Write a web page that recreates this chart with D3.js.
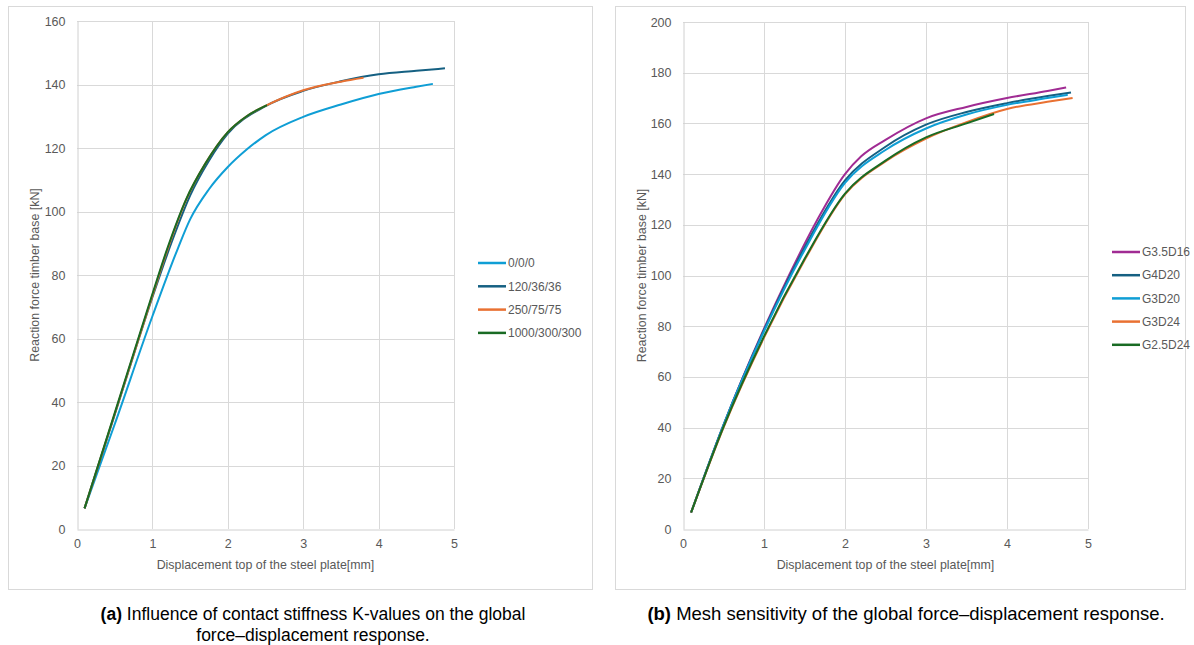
<!DOCTYPE html>
<html>
<head>
<meta charset="utf-8">
<script src="https://cdn.jsdelivr.net/npm/d3@7"></script>
<style>
  body { margin: 0; background: #fff; }
  svg { display: block; }
</style>
</head>
<body>
<svg id="chart" width="1194" height="645"></svg>
<script>
// Panel (a): contact stiffness K-values
const kNames = ['0/0/0', '120/36/36', '250/75/75', '1000/300/300'];
const kColors = ['#0F9ED5', '#156082', '#E97132', '#196B24'];
const k000 = [[0.1, 6.5], [0.5, 33], [1, 67], [1.34, 88.5], [1.5, 97.5], [1.75, 107], [2, 114], [2.25, 119.5], [2.5, 124], [3, 129.8], [3.5, 133.7], [4, 137], [4.5, 139.3], [4.72, 140.2]];
const k120 = [[0.1, 6.5], [0.5, 36], [1, 73], [1.25, 90], [1.5, 105], [1.75, 116], [2, 124.5], [2.5, 133.2], [3, 138], [3.5, 141], [4, 143.2], [4.5, 144.3], [4.88, 145.1]];
const k250 = [[0.1, 6.5], [0.5, 36.2], [1, 73.5], [1.2, 88], [1.45, 103.8], [1.7, 115], [2, 125], [2.25, 130], [2.52, 133.5], [3, 138.2], [3.5, 140.9], [3.8, 142.1]];
const k1000 = [[0.1, 6.5], [0.5, 36.5], [1, 74], [1.2, 88.5], [1.45, 104], [1.7, 115], [2, 125], [2.25, 130], [2.52, 133.5]];
const kTicksX = [0, 1, 2, 3, 4, 5];
const kTicksY = [0, 20, 40, 60, 80, 100, 120, 140, 160];

// Panel (b): mesh sensitivity
const meshNames = ['G3.5D16', 'G4D20', 'G3D20', 'G3D24', 'G2.5D24'];
const meshColors = ['#A02B93', '#156082', '#0F9ED5', '#E97132', '#196B24'];
const g35d16 = [[0.1, 6.5], [0.5, 41], [1, 79], [1.3, 99.5], [1.65, 121.5], [2, 140], [2.2, 147], [2.5, 153.5], [3, 162], [3.5, 166.5], [4, 170], [4.5, 172.8], [4.73, 174.2]];
const g4d20 = [[0.1, 6.5], [0.5, 41], [1, 78.5], [1.5, 111], [2, 137.5], [2.5, 150.8], [3, 159.5], [3.5, 164.5], [4, 168], [4.5, 170.8], [4.79, 172.2]];
const g3d20 = [[0.1, 6.5], [0.5, 41], [1, 78], [1.5, 110], [2, 136.5], [2.5, 149.5], [3, 158], [3.5, 163.5], [4, 167.3], [4.5, 170], [4.75, 171.3]];
const g3d24 = [[0.1, 6.5], [0.5, 40], [1, 75.5], [1.5, 106], [2, 132], [2.5, 145], [3, 154], [3.5, 160.5], [4, 165.7], [4.5, 168.5], [4.81, 170]];
const g25d24 = [[0.1, 6.5], [0.5, 40.3], [1, 76], [1.5, 106.5], [2, 132.3], [2.5, 145.3], [3, 154.5], [3.5, 160], [3.84, 163.7]];
const meshTicksX = [0, 1, 2, 3, 4, 5];
const meshTicksY = [0, 20, 40, 60, 80, 100, 120, 140, 160, 180, 200];

const xTitle = 'Displacement top of the steel plate[mm]';
const yTitle = 'Reaction force timber base [kN]';

const svg = d3.select('#chart');
const font = '"Liberation Sans", Arial, sans-serif';
const gray = '#595959';

function drawPanel(p) {
  // outer frame
  svg.append('rect')
    .attr('x', p.frame[0] + 0.5).attr('y', p.frame[1] + 0.5)
    .attr('width', p.frame[2] - p.frame[0]).attr('height', p.frame[3] - p.frame[1])
    .attr('fill', '#fff').attr('stroke', '#d9d9d9');

  const x = d3.scaleLinear().domain([0, 5]).range([p.plot.left, p.plot.right]);
  const y = d3.scaleLinear().domain([0, p.yMax]).range([p.plot.bottom, p.plot.top]);

  const g = svg.append('g');

  // gridlines
  g.append('g').selectAll('line').data(p.ticksY.slice(1)).join('line')
    .attr('x1', p.plot.left).attr('x2', p.plot.right)
    .attr('y1', d => Math.round(y(d)) + 0.5).attr('y2', d => Math.round(y(d)) + 0.5)
    .attr('stroke', '#d9d9d9');
  g.append('g').selectAll('line').data(p.ticksX.slice(1)).join('line')
    .attr('y1', p.plot.top).attr('y2', p.plot.bottom)
    .attr('x1', d => Math.round(x(d)) + 0.5).attr('x2', d => Math.round(x(d)) + 0.5)
    .attr('stroke', '#d9d9d9');

  // axes through d3, then restyled like the spreadsheet output
  const xAxis = g.append('g')
    .attr('transform', `translate(0, ${Math.round(y(0)) + 0.5})`)
    .call(d3.axisBottom(x).tickValues(p.ticksX).tickFormat(d3.format('d')).tickSize(0).tickPadding(10));
  const yAxis = g.append('g')
    .attr('transform', `translate(${Math.round(x(0)) + 0.5}, 0)`)
    .call(d3.axisLeft(y).tickValues(p.ticksY).tickFormat(d3.format('d')).tickSize(0).tickPadding(12));
  [xAxis, yAxis].forEach(a => {
    a.select('.domain').attr('stroke', '#d0d0d0');
    a.selectAll('text').attr('fill', gray).style('font-family', font).style('font-size', '12.5px');
  });

  // axis titles
  g.append('text')
    .attr('x', (p.plot.left + p.plot.right) / 2).attr('y', p.plot.bottom + 40)
    .attr('text-anchor', 'middle').attr('fill', gray)
    .style('font-family', font).style('font-size', '12.4px')
    .text(xTitle);
  g.append('text')
    .attr('transform', `translate(${p.yTitleX}, ${(p.plot.top + p.plot.bottom) / 2}) rotate(-90)`)
    .attr('text-anchor', 'middle').attr('fill', gray)
    .style('font-family', font).style('font-size', '12.4px')
    .text(yTitle);

  // curves
  const line = d3.line().x(d => x(d[0])).y(d => y(d[1])).curve(d3.curveMonotoneX);
  g.append('g').selectAll('path').data(p.series).join('path')
    .attr('d', d => line(d))
    .attr('fill', 'none')
    .attr('stroke', (d, i) => p.colors[i])
    .attr('stroke-width', 2)
    .attr('stroke-linejoin', 'round');

  // legend
  const lg = g.append('g').selectAll('g').data(p.names).join('g')
    .attr('transform', (d, i) => `translate(${p.legend[0]}, ${p.legend[1] + i * p.legend[2]})`);
  lg.append('line').attr('x1', 0).attr('x2', 28)
    .attr('stroke', (d, i) => p.colors[i]).attr('stroke-width', 2.5);
  lg.append('text').attr('x', 30).attr('dy', '0.35em')
    .attr('fill', gray).style('font-family', font).style('font-size', '12px')
    .text(d => d);
}

drawPanel({
  frame: [8, 6, 592, 589],
  plot: { left: 77, right: 454, top: 21, bottom: 529 },
  yMax: 160, ticksX: kTicksX, ticksY: kTicksY,
  series: [k000, k120, k250, k1000], names: kNames, colors: kColors,
  legend: [478, 263, 23.3], yTitleX: 39
});

drawPanel({
  frame: [615, 6, 1185, 589],
  plot: { left: 683, right: 1088, top: 22, bottom: 529 },
  yMax: 200, ticksX: meshTicksX, ticksY: meshTicksY,
  series: [g35d16, g4d20, g3d20, g3d24, g25d24], names: meshNames, colors: meshColors,
  legend: [1112, 252, 23.2], yTitleX: 646
});

// captions
function caption(cx, yy, size, lines) {
  const t = svg.append('text').attr('text-anchor', 'middle')
    .style('font-family', font).style('font-size', size + 'px').attr('fill', '#000');
  lines.forEach((ln, i) => {
    const row = t.append('tspan').attr('x', cx).attr('y', yy + i * 21);
    if (ln.bold) row.append('tspan').attr('font-weight', 'bold').text(ln.bold);
    row.append('tspan').text(ln.text);
  });
}
caption(313, 620, 17.5, [
  { bold: '(a)', text: ' Influence of contact stiffness K-values on the global' },
  { text: 'force\u2013displacement response.' }
]);
caption(906, 620, 18.5, [
  { bold: '(b)', text: ' Mesh sensitivity of the global force\u2013displacement response.' }
]);
</script>
</body>
</html>
